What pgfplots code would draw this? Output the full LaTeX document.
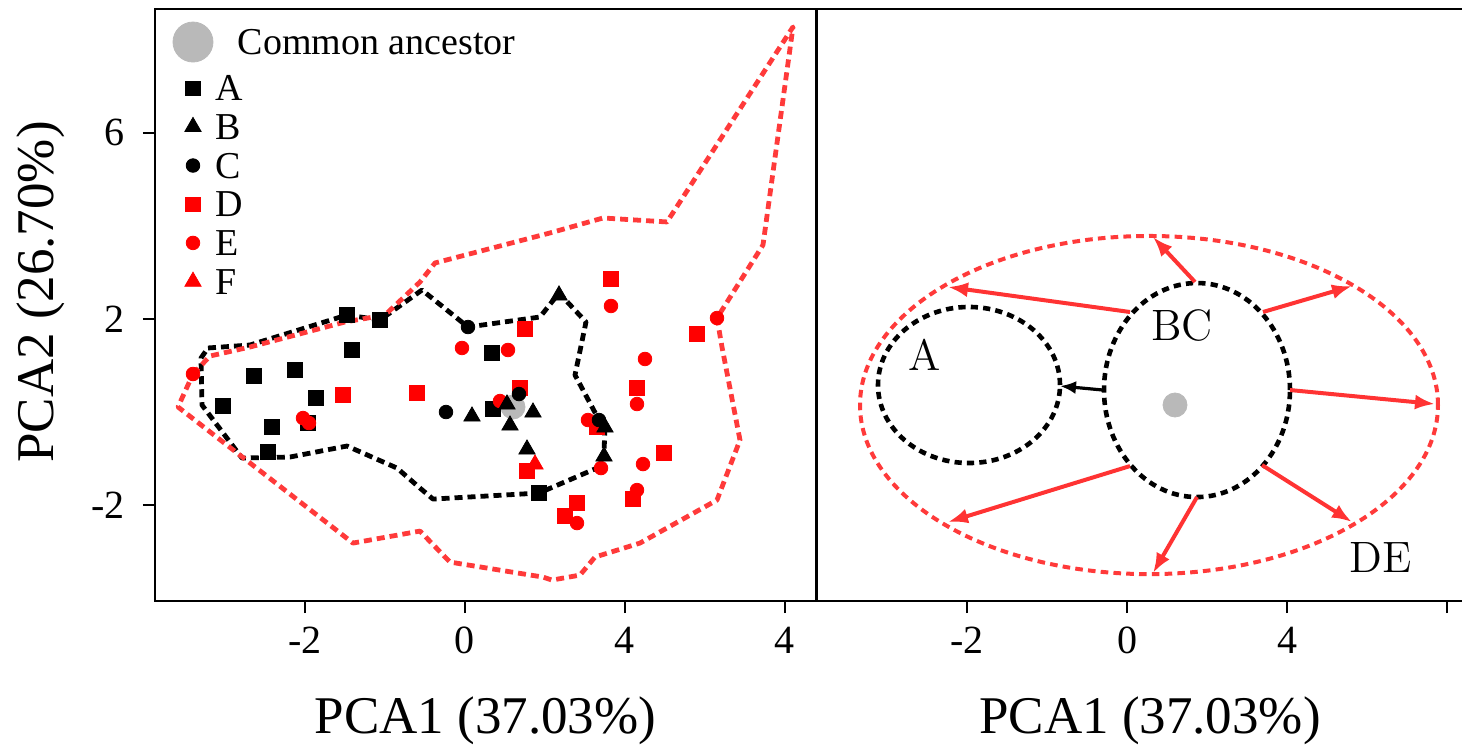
\documentclass[border=0pt]{standalone}
\usepackage{fontspec}
\setmainfont{Liberation Serif}
\usepackage{pgfplots}
\pgfplotsset{compat=1.18}
\usetikzlibrary{arrows.meta}
\definecolor{hullred}{RGB}{255,58,58}
\definecolor{arrred}{RGB}{255,51,51}
\definecolor{ancgray}{RGB}{185,185,185}
\newcommand{\lmlab}[1]{\scalebox{1.83}{\fontsize{12pt}{14pt}\fontfamily{lmr}\selectfont #1}}
\pgfplotsset{
  panel/.style={
    scale only axis, height=296pt,
    ymin=-4.05, ymax=8.65,
    clip=false,
    axis line style={line width=1pt},
    tick style={black, line width=1pt},
    major tick length=6pt,
    tick align=outside, tick pos=left,
    xtick={-2,0,2,4},
    ticklabel style={font=\fontsize{20pt}{24pt}\selectfont},
    xticklabel style={anchor=base, inner sep=0pt, yshift=-20pt},
    yticklabel style={anchor=east, inner sep=0pt, xshift=-9pt},
    label style={font=\fontsize{26.5pt}{32pt}\selectfont},
    xlabel={PCA1 (37.03\%)},
    xlabel style={at={(axis description cs:0.5,-0.223)}, anchor=base},
  },
  hull/.style={line width=2.4pt, dash pattern=on 4pt off 2.5pt, line join=round, forget plot, mark=none},
  mk/.style={only marks, forget plot},
  rarr/.style={arrred, line width=2pt, -{Latex[length=10pt,width=7.5pt]}, forget plot},
}
\pgfplotstableread{
x y
-1.475 2.086
-1.0625 1.979
-1.4125 1.335
0.3375 1.270
-2.6375 0.777
-2.125 0.906
-1.8625 0.305
-3.025 0.133
-2.4125 -0.318
-1.9625 -0.232
-2.4625 -0.854
0.35 0.069
0.925 -1.734
}\tabA
\pgfplotstableread{
x y
1.175 2.508
0.0875 -0.089
0.525 0.169
0.85 -0.003
0.5625 -0.282
0.775 -0.797
1.75 -0.325
1.7375 -0.947
}\tabB
\pgfplotstableread{
x y
0.0375 1.828
-0.2375 0.004
0.675 0.390
1.675 -0.167
}\tabC
\pgfplotstableread{
x y
-1.525 0.369
-0.6 0.412
1.825 2.858
0.75 1.785
0.6875 0.519
2.15 0.519
2.9 1.678
2.4875 -0.876
0.775 -1.262
2.1 -1.863
1.4 -1.949
1.25 -2.228
1.65 -0.318
}\tabD
\pgfplotstableread{
x y
-3.4 0.820
-0.0375 1.378
-2.025 -0.125
-1.95 -0.232
1.825 2.279
0.5375 1.335
0.4375 0.240
2.25 1.142
2.15 0.176
1.5375 -0.167
1.7 -1.198
2.225 -1.112
2.15 -1.670
1.4 -2.378
3.15 2.021
}\tabE
\pgfplotstableread{
x y
0.875 -1.119
}\tabF
\begin{document}
\begin{tikzpicture}
\useasboundingbox (-77.5pt,-72.5pt) rectangle (653.5pt,300.5pt);
\begin{axis}[panel, at={(0pt,0pt)}, anchor=south west, width=330.5pt,
  xmin=-3.875, xmax=4.3875,
  xticklabels={-2,0,4,4},
  ytick={-2,2,6}, yticklabels={-2,2,6},
  ylabel={PCA2 (26.70\%)},
  ylabel style={at={(axis description cs:-0.1543,0.522)}, anchor=base},
  legend image code/.code={\draw[#1] plot coordinates {(0pt,6.3pt)};},
  legend cell align=left,
  legend style={at={(0,1)}, anchor=north west, xshift=9pt, yshift=-6.5pt,
    draw=none, fill=none, inner sep=0pt, outer sep=0pt,
    column sep=1.5pt, row sep=6.85pt,
    font=\fontsize{19pt}{22pt}\selectfont,
    nodes={inner sep=0pt, text height=12.5pt, text depth=0pt},
    cells={anchor=base west}},
]
% hulls
\addplot[hull, black] coordinates {
(-3.2125,1.378) (-2.6875,1.442) (-1.475,2.086) (-1.0625,1.979) (-0.5375,2.622)
(0.0375,1.828) (0.9375,2.043) (1.175,2.558) (1.5125,1.936) (1.375,0.798)
(1.675,-0.167) (1.75,-0.275) (1.7375,-0.897) (1.65,-1.198) (0.925,-1.734)
(-0.4,-1.863) (-0.5625,-1.627) (-0.85,-1.198) (-1.475,-0.725) (-2.1875,-0.961)
(-2.7875,-0.983) (-3.2875,0.154) (-3.3,1.163) (-3.2125,1.378)};
\addplot[hull, hullred] coordinates {
(-3.4,0.820) (-3.1875,1.206) (-2.6875,1.399) (-1.5,1.936) (-1.0,2.086)
(-0.5625,2.794) (-0.375,3.202) (1.0625,3.846) (1.725,4.167) (2.525,4.082)
(4.1,8.266) (3.725,3.588) (3.15,2.021) (3.2125,1.399) (3.4375,-0.597)
(3.15,-1.884) (2.1875,-2.807) (1.625,-3.107) (1.4375,-3.494) (1.0875,-3.601)
(0.975,-3.537) (-0.1875,-3.215) (-0.5625,-2.550) (-1.4,-2.807) (-3.5875,0.112)
(-3.4,0.820)};
% points
\addplot[mk, mark=*, mark size=6pt, ancgray] coordinates {(0.6,0.112)};
\addplot[mk, mark=square*, mark size=3.6pt, black] table {\tabA};
\addplot[mk, mark=square*, mark size=3.6pt, red] table {\tabD};
\addplot[mk, mark=*, mark size=3.4pt, red] table {\tabE};
\addplot[mk, mark=triangle*, mark size=4.7pt, red] table {\tabF};
\addplot[mk, mark=triangle*, mark size=4.7pt, black] table {\tabB};
\addplot[mk, mark=*, mark size=3.4pt, black] table {\tabC};
% legend
\addlegendimage{only marks, mark=*, mark size=10pt, ancgray}
\addlegendentry{\hspace*{11pt}Common ancestor}
\addlegendimage{only marks, mark=square*, mark size=3.6pt, black}
\addlegendentry{A}
\addlegendimage{only marks, mark=triangle*, mark size=4.7pt, black}
\addlegendentry{B}
\addlegendimage{only marks, mark=*, mark size=3.4pt, black}
\addlegendentry{C}
\addlegendimage{only marks, mark=square*, mark size=3.6pt, red}
\addlegendentry{D}
\addlegendimage{only marks, mark=*, mark size=3.4pt, red}
\addlegendentry{E}
\addlegendimage{only marks, mark=triangle*, mark size=4.7pt, red}
\addlegendentry{F}
\end{axis}
\begin{axis}[panel, at={(331pt,0pt)}, anchor=south west, width=333pt,
  xmin=-3.875, xmax=4.45,
  xticklabels={-2,0,4,{}},
  ytick=\empty,
]
\draw[hullred, line width=2pt, dash pattern=on 3.8pt off 2.6pt] (axis cs:0.275,0.154) ellipse [x radius=3.6125, y radius=3.627];
\draw[black, line width=2.3pt, dash pattern=on 3.6pt off 2.6pt] (axis cs:0.875,0.476) ellipse [x radius=1.1625, y radius=2.296];
\draw[black, line width=2.3pt, dash pattern=on 3.6pt off 2.6pt] (axis cs:-1.975,0.584) ellipse [x radius=1.1375, y radius=1.674];
\addplot[rarr] coordinates {(0.0375,2.150) (-2.2375,2.687)};
\addplot[rarr] coordinates {(0.85,2.794) (0.325,3.760)};
\addplot[rarr] coordinates {(1.7,2.150) (2.8125,2.708)};
\addplot[rarr] coordinates {(2.0375,0.476) (3.85,0.176)};
\addplot[rarr] coordinates {(1.6875,-1.133) (2.8125,-2.356)};
\addplot[rarr] coordinates {(0.875,-1.820) (0.325,-3.451)};
\addplot[rarr] coordinates {(0.0375,-1.155) (-2.2375,-2.356)};
\addplot[black, line width=1.6pt, -{Latex[length=8pt,width=6.5pt]}, forget plot] coordinates {(-0.3,0.476) (-0.8375,0.562)};
\addplot[mk, mark=*, mark size=6pt, ancgray] coordinates {(0.6,0.155)};
\node at (axis cs:-2.525,1.227) {\lmlab{A}};
\node at (axis cs:0.6875,1.871) {\lmlab{BC}};
\node at (axis cs:3.166,-3.107) {\lmlab{DE}};
\end{axis}
\end{tikzpicture}
\end{document}
